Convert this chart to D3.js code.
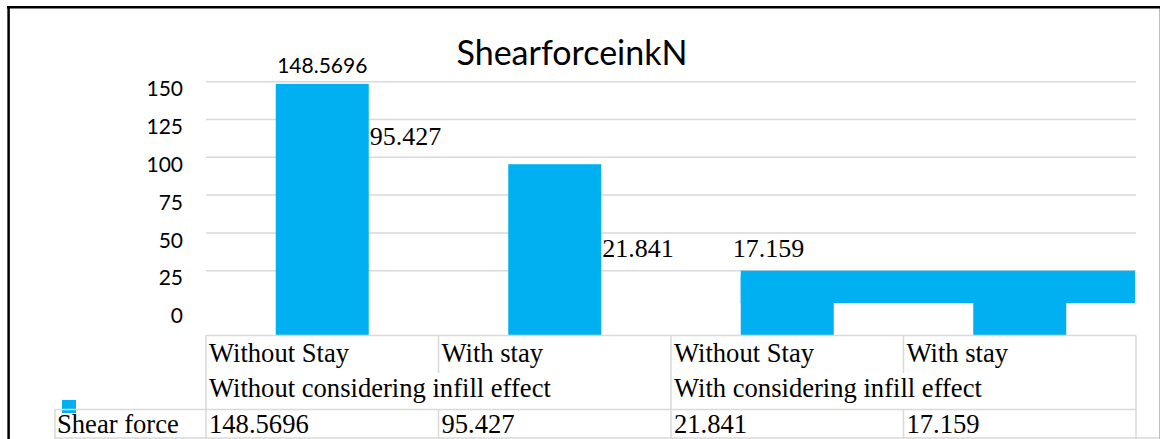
<!DOCTYPE html>
<html><head><meta charset="utf-8">
<script src="https://cdn.jsdelivr.net/npm/d3@7"></script>
<style>body{margin:0;background:#fff}svg{display:block}</style>
</head><body>
<svg id="c" width="1160" height="439"></svg>
<script>
const title = "ShearforceinkN";
const seriesName = "Shear force";
const categories = ["Without Stay", "With stay", "Without Stay", "With stay"];
const groups = ["Without considering infill effect", "With considering infill effect"];
const values = [148.5696, 95.427, 21.841, 17.159];
const valueLabels = ["148.5696", "95.427", "21.841", "17.159"];
const yTicks = [0, 25, 50, 75, 100, 125, 150];

const W = 1160, H = 439;
const blue = "#00B0F0", grid = "#d9d9d9";
const sans = "Lato, 'Open Sans', sans-serif";
const serif = "'Liberation Serif', 'DejaVu Serif', serif";
const svg = d3.select("#c");
svg.append("rect").attr("width", W).attr("height", H).attr("fill", "#fff");

const plotL = 206, plotR = 1136, tableTop = 335.5;
const x = d3.scaleBand().domain(d3.range(categories.length)).range([plotL, plotR]).paddingInner(0.6).paddingOuter(0.3);
const y = d3.scaleLinear().domain([0, 150]).range([308.5, 81.7]);
const step = x.step(), bw = x.bandwidth();
const colEdge = i => plotL + i * step;

// gridlines
svg.append("g").selectAll("line").data(yTicks.filter(t => t > 0)).join("line")
  .attr("x1", plotL).attr("x2", plotR).attr("y1", d => y(d)).attr("y2", d => y(d))
  .attr("stroke", grid).attr("stroke-width", 1.5);

// y axis labels
const ax = svg.append("g").attr("transform", `translate(${plotL},0)`)
  .call(d3.axisLeft(y).tickValues(yTicks).tickSize(0).tickPadding(23));
ax.select(".domain").remove();
ax.selectAll("text").attr("font-family", sans).attr("font-size", 21).attr("fill", "#000")
  .attr("y", 7.5);

// bars
svg.append("g").selectAll("rect").data(values).join("rect")
  .attr("x", (d, i) => x(i)).attr("width", bw)
  .attr("y", d => y(d)).attr("height", d => tableTop - y(d))
  .attr("fill", blue);
// rendering band over the last group
const bandTop = y(Math.ceil(d3.max(values.slice(2)) / 25) * 25);
svg.append("rect").attr("x", x(2)).attr("width", plotR - 1 - x(2))
  .attr("y", bandTop).attr("height", 303 - bandTop).attr("fill", blue);

// data labels
svg.append("text").attr("x", x(0) + bw / 2).attr("y", y(values[0]) - 11)
  .attr("text-anchor", "middle").attr("font-family", sans).attr("font-size", 21).attr("fill", "#000")
  .text(valueLabels[0]);
svg.append("text").attr("x", x(0) + bw + 1).attr("y", y(values[1]) - 19)
  .attr("font-family", serif).attr("font-size", 26).attr("fill", "#000").text(valueLabels[1]);
svg.append("text").attr("x", x(1) + bw + 1).attr("y", y(values[2]) - 18)
  .attr("font-family", serif).attr("font-size", 26).attr("fill", "#000").text(valueLabels[2]);
svg.append("text").attr("x", x(2) - 8).attr("y", y(values[2]) - 18)
  .attr("font-family", serif).attr("font-size", 26).attr("fill", "#000").text(valueLabels[3]);

// title
svg.append("text").attr("x", 572).attr("y", 65).attr("text-anchor", "middle")
  .attr("font-family", sans).attr("font-size", 34).attr("fill", "#000").text(title);

// legend key
svg.append("rect").attr("x", 62).attr("y", 400).attr("width", 14).attr("height", 13).attr("fill", blue);

// data table
const tl = svg.append("g").attr("stroke", grid).attr("stroke-width", 1.5);
const row1 = 373, row2 = 409.5;
tl.append("line").attr("x1", plotL).attr("x2", colEdge(4)).attr("y1", tableTop).attr("y2", tableTop);
tl.append("line").attr("x1", 55).attr("x2", colEdge(4)).attr("y1", row2).attr("y2", row2);
tl.append("line").attr("x1", 55).attr("x2", 1159).attr("y1", 438).attr("y2", 438);
d3.range(5).forEach(i => {
  const full = (i % 2 === 0);
  tl.append("line").attr("x1", colEdge(i)).attr("x2", colEdge(i))
    .attr("y1", tableTop).attr("y2", full ? H : row1);
  if (!full) tl.append("line").attr("x1", colEdge(i)).attr("x2", colEdge(i)).attr("y1", row2).attr("y2", H);
});
tl.append("line").attr("x1", 55).attr("x2", 55).attr("y1", row2).attr("y2", H);

const tt = svg.append("g").attr("font-family", serif).attr("font-size", 26.6).attr("fill", "#000");
categories.forEach((c, i) => tt.append("text").attr("x", colEdge(i) + 3).attr("y", 361.5).text(c));
groups.forEach((g, i) => tt.append("text").attr("x", colEdge(i * 2) + 3).attr("y", 396.5).text(g));
tt.append("text").attr("x", 57).attr("y", 433).text(seriesName);
valueLabels.forEach((v, i) => tt.append("text").attr("x", colEdge(i) + 3).attr("y", 433).text(v));

// outer frame
svg.append("line").attr("x1", 1159.5).attr("x2", 1159.5).attr("y1", 8).attr("y2", H).attr("stroke", "#bfbfbf").attr("stroke-width", 1);
svg.append("line").attr("x1", 7).attr("x2", W).attr("y1", 7.3).attr("y2", 7.3).attr("stroke", "#000").attr("stroke-width", 2.5);
svg.append("line").attr("x1", 8.6).attr("x2", 8.6).attr("y1", 6).attr("y2", H).attr("stroke", "#000").attr("stroke-width", 2.5);
</script>
</body></html>
